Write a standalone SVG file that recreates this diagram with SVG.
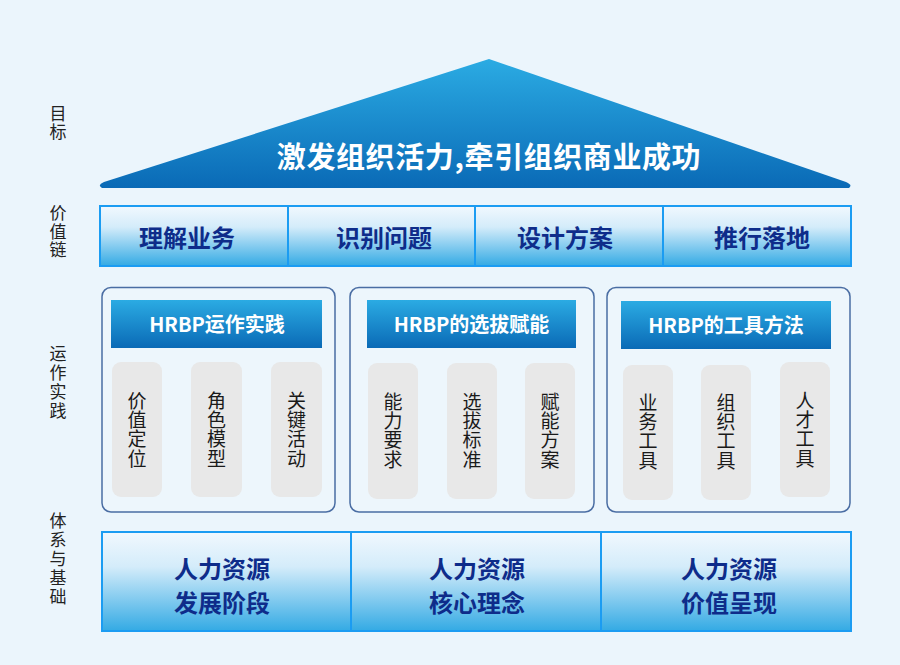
<svg xmlns="http://www.w3.org/2000/svg" width="900" height="665" viewBox="0 0 900 665">
  <defs>
    <linearGradient id="gBlue" x1="0" y1="0" x2="0" y2="1">
      <stop offset="0" stop-color="#2BABE3"/>
      <stop offset="1" stop-color="#0A6AB6"/>
    </linearGradient>
    <linearGradient id="gBar" x1="0" y1="0" x2="0" y2="1">
      <stop offset="0" stop-color="#F1F8FE"/>
      <stop offset="0.35" stop-color="#D4ECFA"/>
      <stop offset="1" stop-color="#33AAE4"/>
    </linearGradient>
    <style>
      .cjk { font-family: "Noto Sans CJK SC", "Noto Sans", sans-serif; }
      .vert { writing-mode: vertical-rl; text-orientation: upright; text-anchor: middle; }
      .side { font-size: 17px; fill: #222; }
      .cell { fill: url(#gBar); stroke: #1B9CF2; stroke-width: 2; }
      .navy { font-size: 24px; font-weight: 700; fill: #0E2C8A; text-anchor: middle; }
      .panel { fill: #EDF6FC; stroke: #4A6DA3; stroke-width: 1.5; }
      .head { fill: url(#gBlue); }
      .htxt { font-size: 20px; font-weight: 700; fill: #FFFFFF; text-anchor: middle; }
      .pill { fill: #E8E8E8; }
      .ptxt { font-size: 19px; fill: #1A1A1A; letter-spacing: 0.3px; }
    </style>
  </defs>

  <rect x="0" y="0" width="900" height="665" fill="#EBF5FC"/>

  <g id="side-labels" class="cjk">
    <text class="side vert" x="58" y="123" letter-spacing="0.5">目标</text>
    <text class="side vert" x="58" y="232" letter-spacing="1.5">价值链</text>
    <text class="side vert" x="58" y="383" letter-spacing="1.8">运作实践</text>
    <text class="side vert" x="58" y="559.5" letter-spacing="2">体系与基础</text>
  </g>

  <g id="goal">
    <path d="M489,59 L846,182 Q853,185 849,188 L102,188 Q97,185 104,182 Z" fill="url(#gBlue)"/>
    <text class="cjk" x="489" y="168" font-size="29" font-weight="700" fill="#FFFFFF" text-anchor="middle" letter-spacing="0.6">激发组织活力,牵引组织商业成功</text>
  </g>

  <g id="value-chain" class="cjk">
    <rect class="cell" x="100" y="206" width="188" height="60"/>
    <rect class="cell" x="288" y="206" width="187" height="60"/>
    <rect class="cell" x="475" y="206" width="188" height="60"/>
    <rect class="cell" x="663" y="206" width="188" height="60"/>
    <text class="navy" x="187" y="247">理解业务</text>
    <text class="navy" x="384" y="247">识别问题</text>
    <text class="navy" x="565" y="247">设计方案</text>
    <text class="navy" x="762" y="247">推行落地</text>
  </g>

  <g id="panel-practice" class="cjk">
    <rect class="panel" x="102" y="287.5" width="233" height="224.5" rx="9"/>
    <rect class="head" x="111" y="300" width="211" height="48"/>
    <text class="htxt" x="217" y="332">HRBP运作实践</text>
    <rect class="pill" x="112" y="362" width="50" height="135" rx="9"/>
    <rect class="pill" x="191" y="362" width="51" height="135" rx="9"/>
    <rect class="pill" x="271" y="362" width="51" height="135" rx="9"/>
    <text class="ptxt vert" x="137" y="429.5">价值定位</text>
    <text class="ptxt vert" x="216.5" y="429.5">角色模型</text>
    <text class="ptxt vert" x="296.5" y="429.5">关键活动</text>
  </g>

  <g id="panel-selection" class="cjk">
    <rect class="panel" x="350" y="287.5" width="244" height="224.5" rx="9"/>
    <rect class="head" x="367" y="300" width="209" height="48"/>
    <text class="htxt" x="471.5" y="332">HRBP的选拔赋能</text>
    <rect class="pill" x="368" y="363" width="50" height="136" rx="9"/>
    <rect class="pill" x="447" y="363" width="50" height="136" rx="9"/>
    <rect class="pill" x="525" y="363" width="50" height="136" rx="9"/>
    <text class="ptxt vert" x="393" y="430.5">能力要求</text>
    <text class="ptxt vert" x="472" y="430.5">选拔标准</text>
    <text class="ptxt vert" x="550" y="430.5">赋能方案</text>
  </g>

  <g id="panel-tools" class="cjk">
    <rect class="panel" x="607" y="287.5" width="243" height="224.5" rx="9"/>
    <rect class="head" x="621" y="301" width="210" height="48"/>
    <text class="htxt" x="726" y="333">HRBP的工具方法</text>
    <rect class="pill" x="623" y="365" width="50" height="135" rx="9"/>
    <rect class="pill" x="701" y="365" width="50" height="135" rx="9"/>
    <rect class="pill" x="780" y="362" width="50" height="135" rx="9"/>
    <text class="ptxt vert" x="648" y="431.5">业务工具</text>
    <text class="ptxt vert" x="726" y="431.5">组织工具</text>
    <text class="ptxt vert" x="805" y="429.5">人才工具</text>
  </g>

  <g id="foundation" class="cjk">
    <rect class="cell" x="102" y="532" width="249" height="99"/>
    <rect class="cell" x="351" y="532" width="250" height="99"/>
    <rect class="cell" x="601" y="532" width="250" height="99"/>
    <text class="navy"><tspan x="222" y="578">人力资源</tspan><tspan x="222" y="612">发展阶段</tspan></text>
    <text class="navy"><tspan x="477" y="578">人力资源</tspan><tspan x="477" y="612">核心理念</tspan></text>
    <text class="navy"><tspan x="729" y="578">人力资源</tspan><tspan x="729" y="612">价值呈现</tspan></text>
  </g>
</svg>
